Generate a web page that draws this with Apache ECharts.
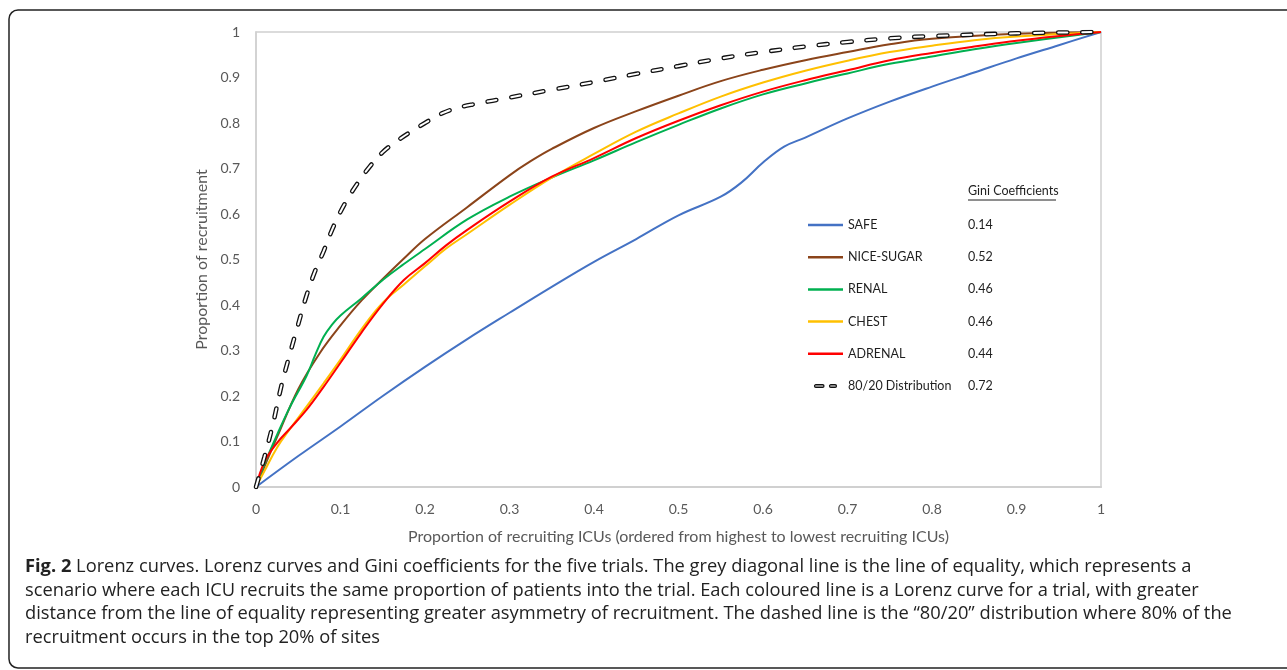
<!DOCTYPE html>
<html>
<head>
<meta charset="utf-8">
<script src="https://cdn.jsdelivr.net/npm/echarts@6/dist/echarts.min.js"></script>
<style>
html,body{margin:0;padding:0;background:#fff;}
#c{width:1287px;height:670px;}
</style>
</head>
<body>
<div id="c"></div>
<script>
// ---- data ----
const xTicks = [0, 0.1, 0.2, 0.3, 0.4, 0.5, 0.6, 0.7, 0.8, 0.9, 1];
const yTicks = [0, 0.1, 0.2, 0.3, 0.4, 0.5, 0.6, 0.7, 0.8, 0.9, 1];

const seriesNames = ['SAFE', 'NICE-SUGAR', 'RENAL', 'CHEST', 'ADRENAL', '80/20 Distribution'];
const giniValues = ['0.14', '0.52', '0.46', '0.46', '0.44', '0.72'];

const safeX = [0, 0.05, 0.1, 0.15, 0.2, 0.25, 0.3, 0.35, 0.4, 0.45, 0.5, 0.55, 0.575, 0.6, 0.625, 0.65, 0.7, 0.75, 0.8, 0.85, 0.9, 0.95, 1];
const safeY = [0, 0.068, 0.133, 0.2, 0.264, 0.325, 0.383, 0.44, 0.495, 0.545, 0.597, 0.638, 0.67, 0.713, 0.748, 0.768, 0.81, 0.847, 0.88, 0.911, 0.942, 0.971, 1];

const niceX = [0, 0.01, 0.025, 0.05, 0.075, 0.1, 0.125, 0.15, 0.175, 0.2, 0.25, 0.3, 0.325, 0.35, 0.4, 0.45, 0.5, 0.55, 0.6, 0.65, 0.7, 0.75, 0.8, 0.9, 1];
const niceY = [0, 0.045, 0.11, 0.215, 0.293, 0.355, 0.41, 0.457, 0.502, 0.545, 0.615, 0.685, 0.716, 0.743, 0.789, 0.826, 0.86, 0.892, 0.917, 0.938, 0.956, 0.973, 0.985, 0.996, 1];

const renalX = [0, 0.01, 0.025, 0.04, 0.06, 0.07, 0.08, 0.09, 0.1, 0.125, 0.15, 0.175, 0.2, 0.25, 0.3, 0.35, 0.4, 0.45, 0.5, 0.55, 0.6, 0.65, 0.7, 0.75, 0.8, 0.85, 0.9, 1];
const renalY = [0, 0.05, 0.115, 0.175, 0.245, 0.29, 0.33, 0.357, 0.377, 0.415, 0.455, 0.49, 0.523, 0.588, 0.638, 0.68, 0.718, 0.758, 0.796, 0.832, 0.863, 0.887, 0.909, 0.93, 0.946, 0.962, 0.976, 1];

const chestX = [0, 0.01, 0.025, 0.04, 0.06, 0.08, 0.1, 0.125, 0.15, 0.175, 0.2, 0.225, 0.25, 0.3, 0.35, 0.4, 0.45, 0.5, 0.55, 0.6, 0.65, 0.7, 0.75, 0.8, 0.85, 0.9, 1];
const chestY = [0, 0.035, 0.087, 0.127, 0.177, 0.228, 0.28, 0.347, 0.405, 0.445, 0.485, 0.524, 0.556, 0.62, 0.68, 0.732, 0.781, 0.821, 0.858, 0.889, 0.915, 0.937, 0.956, 0.97, 0.982, 0.99, 1];

const adrenalX = [0, 0.01, 0.025, 0.04, 0.06, 0.08, 0.1, 0.125, 0.15, 0.175, 0.2, 0.225, 0.25, 0.3, 0.35, 0.4, 0.45, 0.5, 0.55, 0.6, 0.65, 0.7, 0.75, 0.8, 0.85, 0.9, 1];
const adrenalY = [0, 0.055, 0.097, 0.128, 0.17, 0.22, 0.273, 0.34, 0.402, 0.455, 0.492, 0.531, 0.565, 0.627, 0.682, 0.723, 0.767, 0.805, 0.839, 0.869, 0.894, 0.916, 0.938, 0.954, 0.968, 0.981, 1];

const distX = [0, 0.01, 0.02, 0.03, 0.04, 0.05, 0.06, 0.07, 0.08, 0.09, 0.1, 0.11, 0.12, 0.135, 0.15, 0.165, 0.18, 0.2, 0.22, 0.24, 0.26, 0.3, 0.35, 0.4, 0.45, 0.5, 0.55, 0.6, 0.65, 0.7, 0.75, 0.8, 0.9, 1];
const distY = [0, 0.066, 0.138, 0.222, 0.292, 0.358, 0.422, 0.475, 0.518, 0.565, 0.605, 0.638, 0.667, 0.705, 0.736, 0.758, 0.777, 0.80, 0.821, 0.834, 0.842, 0.856, 0.873, 0.89, 0.908, 0.925, 0.942, 0.956, 0.968, 0.978, 0.986, 0.991, 0.997, 1];

const captionLines = [
  'Lorenz curves. Lorenz curves and Gini coefficients for the five trials. The grey diagonal line is the line of equality, which represents a',
  'scenario where each ICU recruits the same proportion of patients into the trial. Each coloured line is a Lorenz curve for a trial, with greater',
  'distance from the line of equality representing greater asymmetry of recruitment. The dashed line is the \u201c80/20\u201d distribution where 80% of the',
  'recruitment occurs in the top 20% of sites'
];

// ---- build ----
const zip = (xs, ys) => xs.map((x, i) => [x, ys[i]]);
const colors = ['#4472C4', '#8B441A', '#00B050', '#FFC000', '#FF0000'];
const lineData = [zip(safeX, safeY), zip(niceX, niceY), zip(renalX, renalY), zip(chestX, chestY), zip(adrenalX, adrenalY)];

const FONT = 'Lato, "Open Sans", sans-serif';
const CAPFONT = '"Open Sans", Lato, sans-serif';
const SMOOTH = 0.4;
const series = lineData.map((d, i) => ({
  name: seriesNames[i],
  type: 'line',
  data: d,
  smooth: SMOOTH,
  showSymbol: false,
  symbol: 'none',
  color: colors[i],
  lineStyle: { color: colors[i], width: 2 },
  emphasis: { disabled: true },
  silent: true,
  z: 2 + i
}));
const distData = zip(distX, distY);
series.push({
  name: seriesNames[5],
  type: 'line',
  data: distData,
  smooth: SMOOTH,
  symbol: 'none',
  color: '#111',
  lineStyle: { color: '#111', width: 4.6, type: [9, 15], cap: 'round' },
  silent: true,
  z: 10
});
series.push({
  name: '_inner',
  type: 'line',
  data: distData,
  smooth: SMOOTH,
  symbol: 'none',
  lineStyle: { color: '#fff', width: 2, type: [9, 15], cap: 'round' },
  silent: true,
  z: 11
});

const legendData = seriesNames.map((n, i) => i < 5
  ? { name: n, icon: 'rect', itemStyle: { color: colors[i] } }
  : { name: n, icon: 'path://M1,0h11a1.5,1.5 0 0 1 0,4h-11a1.5,1.5 0 0 1 0,-4z M25,0h7a1.5,1.5 0 0 1 0,4h-7a1.5,1.5 0 0 1 0,-4z',
      itemStyle: { color: '#fff', borderColor: '#111', borderWidth: 1.3 } });

const chart = echarts.init(document.getElementById('c'));
chart.setOption({
  animation: false,
  backgroundColor: '#fff',
  grid: { left: 256, right: 186, top: 32, bottom: 183, show: true, borderColor: '#d0d0d0', borderWidth: 1.5 },
  xAxis: {
    type: 'value', min: 0, max: 1, interval: 0.1,
    name: 'Proportion of recruiting ICUs (ordered from highest to lowest recruiting ICUs)',
    nameLocation: 'middle', nameGap: 42,
    nameTextStyle: { color: '#595959', fontSize: 16, fontFamily: FONT },
    axisLine: { show: true, lineStyle: { color: '#d0d0d0', width: 2 } },
    axisTick: { show: false },
    splitLine: { show: false },
    axisLabel: { color: '#595959', fontSize: 14, fontFamily: FONT, margin: 15,
      formatter: v => String(xTicks.find(t => Math.abs(t - v) < 1e-6) ?? +v.toFixed(1)) }
  },
  yAxis: {
    type: 'value', min: 0, max: 1, interval: 0.1,
    name: 'Proportion of recruitment',
    nameLocation: 'middle', nameGap: 36,
    nameTextStyle: { color: '#595959', fontSize: 16, fontFamily: FONT },
    axisLine: { show: true, lineStyle: { color: '#d0d0d0', width: 1.5 } },
    axisTick: { show: false },
    splitLine: { show: false },
    axisLabel: { color: '#595959', fontSize: 14, fontFamily: FONT, margin: 16,
      formatter: v => String(yTicks.find(t => Math.abs(t - v) < 1e-6) ?? +v.toFixed(1)) }
  },
  legend: {
    show: true,
    orient: 'vertical',
    left: 808, top: 218,
    padding: 0,
    itemWidth: 35, itemHeight: 2.5,
    itemGap: 18.2,
    selectedMode: false,
    data: legendData,
    textStyle: {
      color: '#1f1f1f', fontSize: 12.5, fontFamily: FONT, lineHeight: 14,
      rich: { n: { width: 120, fontSize: 12.5, fontFamily: FONT, color: '#1f1f1f' },
              v: { fontSize: 12.5, fontFamily: FONT, color: '#1f1f1f' } }
    },
    formatter: name => '{n|' + name + '}{v|' + giniValues[seriesNames.indexOf(name)] + '}'
  },
  series: series,
  graphic: [
    { type: 'rect', silent: true, shape: { x: 9, y: 10, width: 1300, height: 658, r: 9 },
      style: { fill: 'none', stroke: '#222', lineWidth: 1.5 } },
    { type: 'text', silent: true, left: 968, top: 184,
      style: { text: 'Gini Coefficients', fill: '#1f1f1f', fontSize: 12.5, fontFamily: FONT } },
    { type: 'line', silent: true, shape: { x1: 968, y1: 200, x2: 1056, y2: 200 },
      style: { stroke: '#1f1f1f', lineWidth: 1 } },
    { type: 'text', silent: true, left: 25, top: 555,
      style: {
        text: '{b|Fig. 2} ' + captionLines[0] + '\n' + captionLines.slice(1).join('\n'),
        fill: '#222', fontSize: 18.3, fontFamily: CAPFONT, lineHeight: 23.7,
        rich: { b: { fontWeight: 'bold', fontSize: 18.3, fontFamily: CAPFONT, fill: '#222', lineHeight: 23.7 } }
      } }
  ]
});
</script>
</body>
</html>
